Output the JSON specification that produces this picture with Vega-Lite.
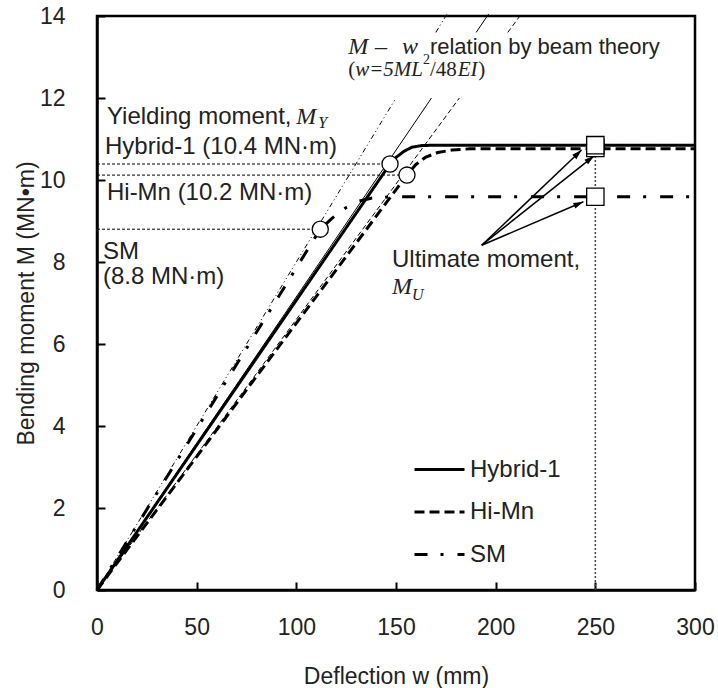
{
  "$schema": "https://vega.github.io/schema/vega-lite/v6.json",
  "width": 598,
  "height": 574,
  "autosize": {"type": "none"},
  "padding": {"left": 97, "top": 16, "right": 23, "bottom": 98},
  "background": "white",
  "datasets": {
    "curves": [
      {"s": "Hybrid-1", "w": 0, "M": 0},
      {"s": "Hybrid-1", "w": 147, "M": 10.39},
      {"s": "Hybrid-1", "w": 150, "M": 10.55},
      {"s": "Hybrid-1", "w": 154, "M": 10.7},
      {"s": "Hybrid-1", "w": 158, "M": 10.8},
      {"s": "Hybrid-1", "w": 163, "M": 10.84},
      {"s": "Hybrid-1", "w": 170, "M": 10.85},
      {"s": "Hybrid-1", "w": 300, "M": 10.85},
      {"s": "Hi-Mn", "w": 0, "M": 0},
      {"s": "Hi-Mn", "w": 155.5, "M": 10.12},
      {"s": "Hi-Mn", "w": 160, "M": 10.38},
      {"s": "Hi-Mn", "w": 165, "M": 10.56},
      {"s": "Hi-Mn", "w": 171, "M": 10.67},
      {"s": "Hi-Mn", "w": 178, "M": 10.73},
      {"s": "Hi-Mn", "w": 187, "M": 10.76},
      {"s": "Hi-Mn", "w": 300, "M": 10.76},
      {"s": "SM", "w": 0, "M": 0},
      {"s": "SM", "w": 112, "M": 8.8},
      {"s": "SM", "w": 118, "M": 9.07},
      {"s": "SM", "w": 125, "M": 9.33},
      {"s": "SM", "w": 131, "M": 9.48},
      {"s": "SM", "w": 138, "M": 9.56},
      {"s": "SM", "w": 148, "M": 9.59},
      {"s": "SM", "w": 300, "M": 9.59}
    ],
    "beam": [
      {"kind": "a", "seg": "lo", "w": 0, "M": 0},
      {"kind": "a", "seg": "lo", "w": 150, "M": 12.0},
      {"kind": "a", "seg": "hi", "w": 170, "M": 13.6},
      {"kind": "a", "seg": "hi", "w": 175.6, "M": 14.05},
      {"kind": "b", "seg": "lo", "w": 0, "M": 0},
      {"kind": "b", "seg": "lo", "w": 167.8, "M": 12.0},
      {"kind": "b", "seg": "hi", "w": 190.2, "M": 13.6},
      {"kind": "b", "seg": "hi", "w": 196.5, "M": 14.05},
      {"kind": "c", "seg": "lo", "w": 0, "M": 0},
      {"kind": "c", "seg": "lo", "w": 181.8, "M": 12.0},
      {"kind": "c", "seg": "hi", "w": 206.1, "M": 13.6},
      {"kind": "c", "seg": "hi", "w": 212.9, "M": 14.05}
    ],
    "leaders": [
      {"w": 0, "w2": 147, "M": 10.39},
      {"w": 0, "w2": 155.5, "M": 10.12},
      {"w": 0, "w2": 112, "M": 8.8}
    ],
    "vline": [{"w": 250, "M": 0, "M2": 10.78}],
    "yield": [
      {"w": 147, "M": 10.39},
      {"w": 155.5, "M": 10.12},
      {"w": 112, "M": 8.8}
    ],
    "ult": [
      {"w": 250, "M": 10.78},
      {"w": 250, "M": 10.85},
      {"w": 250, "M": 9.59}
    ],
    "arrows": [
      {"id": 1, "w": 193, "M": 8.41, "w2": 243.1, "M2": 10.73},
      {"id": 2, "w": 193, "M": 8.41, "w2": 249.4, "M2": 10.59},
      {"id": 3, "w": 193, "M": 8.41, "w2": 244, "M2": 9.47}
    ],
    "sans": [
      {"w": 5, "M": 11.54, "t": "Yielding moment,"},
      {"w": 4, "M": 10.8, "t": "Hybrid-1 (10.4 MN·m)"},
      {"w": 5, "M": 9.68, "t": "Hi-Mn (10.2 MN·m)"},
      {"w": 3, "M": 8.24, "t": "SM"},
      {"w": 3, "M": 7.63, "t": "(8.8 MN·m)"},
      {"w": 148, "M": 8.05, "t": "Ultimate moment,"}
    ],
    "sans2": [
      {"w": 167, "M": 13.24, "t": "relation by beam theory"}
    ],
    "serifItalic": [
      {"w": 100, "M": 11.54, "t": "M"},
      {"w": 126, "M": 13.24, "t": "M"},
      {"w": 153, "M": 13.24, "t": "w"},
      {"w": 148, "M": 7.39, "t": "M"}
    ],
    "serifUpright": [
      {"w": 139.5, "M": 13.24, "t": "–"}
    ],
    "line2Italic": [
      {"w": 129.5, "M": 12.68, "t": "w=5ML"},
      {"w": 181, "M": 12.68, "t": "EI"}
    ],
    "line2Upright": [
      {"w": 126, "M": 12.68, "t": "("},
      {"w": 167, "M": 12.68, "t": "/48"},
      {"w": 191.2, "M": 12.68, "t": ")"}
    ],
    "subs": [
      {"w": 111, "M": 11.38, "t": "Y"},
      {"w": 158, "M": 7.2, "t": "U"}
    ],
    "sups": [
      {"w": 163.5, "M": 12.93, "t": "2"}
    ]
  },
  "layer": [
    {
      "data": {"name": "beam"},
      "transform": [{"filter": "datum.kind == 'a'"}],
      "mark": {"type": "line", "color": "black", "strokeWidth": 1, "strokeDash": [5, 3, 1, 3, 1, 3]},
      "encoding": {
        "x": {"field": "w", "type": "quantitative", "scale": {"domain": [0, 300], "nice": false},
              "axis": {"values": [0, 50, 100, 150, 200, 250, 300], "title": "Deflection w (mm)"}},
        "y": {"field": "M", "type": "quantitative", "scale": {"domain": [0, 14], "nice": false},
              "axis": {"values": [0, 2, 4, 6, 8, 10, 12, 14], "title": "Bending moment M (MN•m)"}},
        "detail": {"field": "seg"}
      }
    },
    {
      "data": {"name": "beam"},
      "transform": [{"filter": "datum.kind == 'b'"}],
      "mark": {"type": "line", "color": "black", "strokeWidth": 1},
      "encoding": {
        "x": {"field": "w", "type": "quantitative"},
        "y": {"field": "M", "type": "quantitative"},
        "detail": {"field": "seg"}
      }
    },
    {
      "data": {"name": "beam"},
      "transform": [{"filter": "datum.kind == 'c'"}],
      "mark": {"type": "line", "color": "black", "strokeWidth": 1, "strokeDash": [5, 3]},
      "encoding": {
        "x": {"field": "w", "type": "quantitative"},
        "y": {"field": "M", "type": "quantitative"},
        "detail": {"field": "seg"}
      }
    },
    {
      "data": {"name": "leaders"},
      "mark": {"type": "rule", "color": "black", "strokeWidth": 1, "strokeDash": [3, 2]},
      "encoding": {
        "x": {"field": "w", "type": "quantitative"},
        "x2": {"field": "w2"},
        "y": {"field": "M", "type": "quantitative"}
      }
    },
    {
      "data": {"name": "vline"},
      "mark": {"type": "rule", "color": "#444", "strokeWidth": 1.5, "strokeDash": [2, 2]},
      "encoding": {
        "x": {"field": "w", "type": "quantitative"},
        "y": {"field": "M", "type": "quantitative"},
        "y2": {"field": "M2"}
      }
    },
    {
      "data": {"name": "curves"},
      "mark": {"type": "line", "color": "black", "strokeWidth": 3},
      "encoding": {
        "x": {"field": "w", "type": "quantitative"},
        "y": {"field": "M", "type": "quantitative"},
        "strokeDash": {
          "field": "s", "type": "nominal",
          "scale": {"domain": ["Hybrid-1", "Hi-Mn", "SM"], "range": [[1, 0], [10, 5], [13, 13, 3, 14]]},
          "legend": {
            "orient": "none", "legendX": 316, "legendY": 427, "title": null,
            "symbolType": "stroke", "symbolSize": 2500, "symbolStrokeWidth": 3, "symbolStrokeColor": "black",
            "labelFont": "Liberation Sans", "labelFontSize": 24, "labelColor": "#222",
            "rowPadding": 3.5, "labelOffset": 4, "padding": 0
          }
        }
      }
    },
    {
      "data": {"name": "arrows"},
      "mark": {"type": "rule", "color": "black", "strokeWidth": 1.5},
      "encoding": {
        "x": {"field": "w", "type": "quantitative"},
        "y": {"field": "M", "type": "quantitative"},
        "x2": {"field": "w2"},
        "y2": {"field": "M2"}
      }
    },
    {
      "data": {"name": "arrows"},
      "mark": {"type": "point", "shape": "M0,0L-0.3,1L0.3,1Z", "filled": true, "color": "black", "size": 400, "opacity": 1},
      "encoding": {
        "x": {"field": "w2", "type": "quantitative"},
        "y": {"field": "M2", "type": "quantitative"},
        "angle": {"field": "id", "type": "quantitative", "scale": {"domain": [1, 2, 3], "range": [46.5, 51.6, 66.9]}, "legend": null}
      }
    },
    {
      "data": {"name": "yield"},
      "mark": {"type": "point", "shape": "circle", "filled": true, "fill": "white", "stroke": "black", "strokeWidth": 1.3, "size": 260, "opacity": 1},
      "encoding": {
        "x": {"field": "w", "type": "quantitative"},
        "y": {"field": "M", "type": "quantitative"}
      }
    },
    {
      "data": {"name": "ult"},
      "mark": {"type": "point", "shape": "square", "filled": true, "fill": "white", "stroke": "black", "strokeWidth": 1.3, "size": 300, "opacity": 1},
      "encoding": {
        "x": {"field": "w", "type": "quantitative"},
        "y": {"field": "M", "type": "quantitative"}
      }
    },
    {
      "data": {"name": "sans"},
      "mark": {"type": "text", "align": "left", "baseline": "middle", "font": "Liberation Sans", "fontSize": 24, "color": "#222"},
      "encoding": {
        "x": {"field": "w", "type": "quantitative"},
        "y": {"field": "M", "type": "quantitative"},
        "text": {"field": "t"}
      }
    },
    {
      "data": {"name": "sans2"},
      "mark": {"type": "text", "align": "left", "baseline": "middle", "font": "Liberation Sans", "fontSize": 22, "color": "#222"},
      "encoding": {
        "x": {"field": "w", "type": "quantitative"},
        "y": {"field": "M", "type": "quantitative"},
        "text": {"field": "t"}
      }
    },
    {
      "data": {"name": "serifItalic"},
      "mark": {"type": "text", "align": "left", "baseline": "middle", "font": "Liberation Serif", "fontStyle": "italic", "fontSize": 24, "color": "#222"},
      "encoding": {
        "x": {"field": "w", "type": "quantitative"},
        "y": {"field": "M", "type": "quantitative"},
        "text": {"field": "t"}
      }
    },
    {
      "data": {"name": "serifUpright"},
      "mark": {"type": "text", "align": "left", "baseline": "middle", "font": "Liberation Serif", "fontSize": 24, "color": "#222"},
      "encoding": {
        "x": {"field": "w", "type": "quantitative"},
        "y": {"field": "M", "type": "quantitative"},
        "text": {"field": "t"}
      }
    },
    {
      "data": {"name": "line2Italic"},
      "mark": {"type": "text", "align": "left", "baseline": "middle", "font": "Liberation Serif", "fontStyle": "italic", "fontSize": 21, "color": "#222"},
      "encoding": {
        "x": {"field": "w", "type": "quantitative"},
        "y": {"field": "M", "type": "quantitative"},
        "text": {"field": "t"}
      }
    },
    {
      "data": {"name": "line2Upright"},
      "mark": {"type": "text", "align": "left", "baseline": "middle", "font": "Liberation Serif", "fontSize": 21, "color": "#222"},
      "encoding": {
        "x": {"field": "w", "type": "quantitative"},
        "y": {"field": "M", "type": "quantitative"},
        "text": {"field": "t"}
      }
    },
    {
      "data": {"name": "subs"},
      "mark": {"type": "text", "align": "left", "baseline": "middle", "font": "Liberation Serif", "fontStyle": "italic", "fontSize": 16, "color": "#222"},
      "encoding": {
        "x": {"field": "w", "type": "quantitative"},
        "y": {"field": "M", "type": "quantitative"},
        "text": {"field": "t"}
      }
    },
    {
      "data": {"name": "sups"},
      "mark": {"type": "text", "align": "left", "baseline": "middle", "font": "Liberation Serif", "fontSize": 14, "color": "#222"},
      "encoding": {
        "x": {"field": "w", "type": "quantitative"},
        "y": {"field": "M", "type": "quantitative"},
        "text": {"field": "t"}
      }
    }
  ],
  "config": {
    "view": {"stroke": "black", "strokeWidth": 2.5},
    "axis": {
      "grid": false,
      "domainColor": "black", "domainWidth": 2.5,
      "tickColor": "black", "tickWidth": 2, "tickSize": -8,
      "labelFont": "Liberation Sans", "labelFontSize": 23, "labelColor": "#222",
      "titleFont": "Liberation Sans", "titleFontSize": 23, "titleFontWeight": "normal", "titleColor": "#222"
    },
    "axisX": {"labelPadding": 34, "titlePadding": 26, "labelFlush": false},
    "axisY": {"labelPadding": 40, "titlePadding": 1, "labelFlush": false}
  }
}
